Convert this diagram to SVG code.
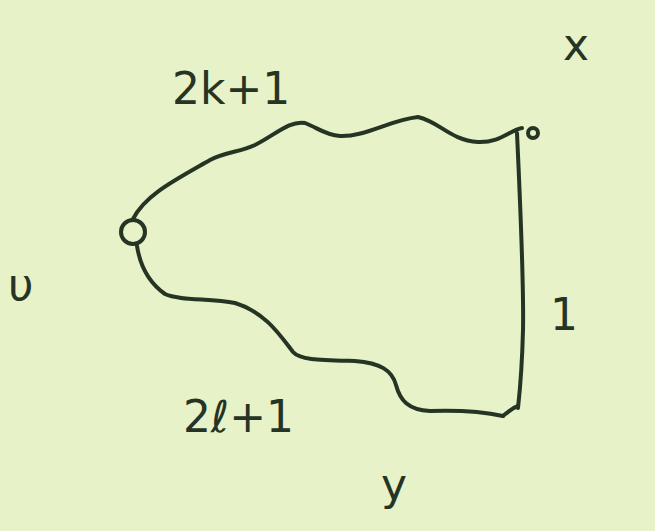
<svg xmlns="http://www.w3.org/2000/svg" width="655" height="531" viewBox="0 0 655 531">
<style>
.ln{fill:none;stroke:#263424;stroke-width:4;stroke-linecap:round;stroke-linejoin:round}
.lb{font-family:"DejaVu Sans","Liberation Sans",sans-serif;fill:#263424;font-size:44px}
</style>
<rect width="655" height="531" fill="#e7f2c9"/>
<g id="connectors">
<path class="ln" d="M133,219 C145,195 175,180 210,160 C225,152 240,152 255,145 C275,135 290,120 305,123 C318,128 325,135 340,136 C365,137 390,120 418,117 C440,122 450,140 478,142 C500,143 510,130 522,128"/>
<path class="ln" d="M517,133 C520,200 524,280 523,330 C522,370 520,390 518,408"/>
<path class="ln" d="M137,246 C140,265 148,282 165,294 C180,301 210,298 235,303 C265,312 280,335 293,352 C300,360 320,360 355,361 C380,363 392,370 396,385 C400,400 408,410 430,411 C460,410 485,412 503,416"/>
</g>
<g id="v"><circle class="ln" cx="133" cy="232" r="12"/><text class="lb" x="8" y="300" font-size="56">υ</text></g>
<g id="x"><circle class="ln" cx="533" cy="133" r="5" stroke-width="3"/><text class="lb" x="563" y="60" font-size="56">x</text></g>
<g id="y"><path class="ln" d="M503,416 C508,412 512,408 518,406"/><text class="lb" x="381" y="500" font-size="58">y</text></g>
<g id="labels">
<text class="lb" x="172" y="104" font-size="46">2k+1</text>
<text class="lb" x="550" y="330" font-size="62">1</text>
<text class="lb" x="183" y="432" font-size="46">2ℓ+1</text>
</g>
</svg>
